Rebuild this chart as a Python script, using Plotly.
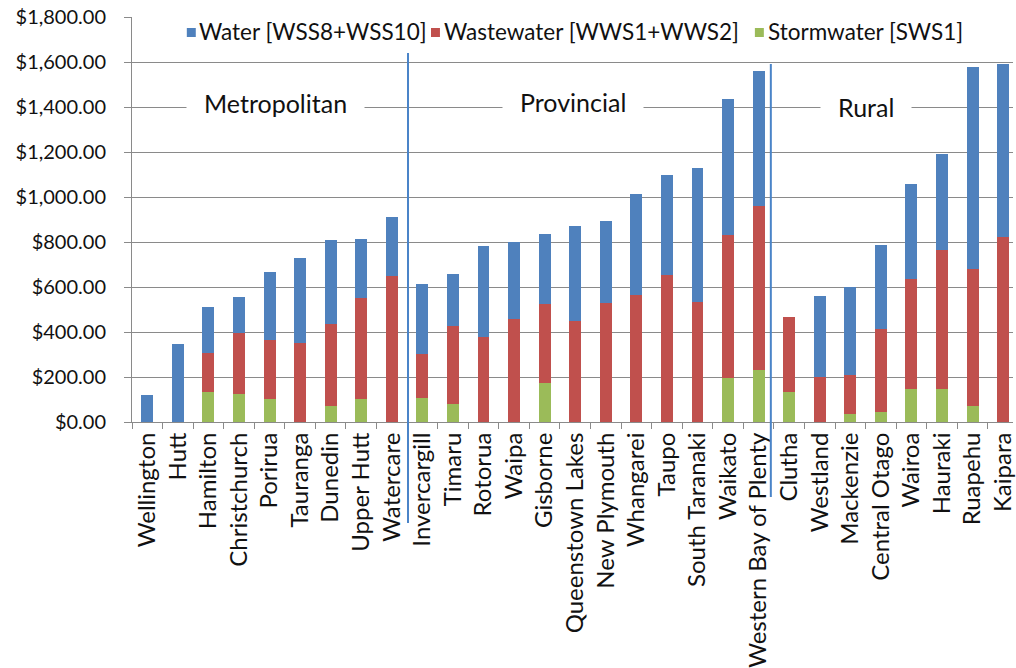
import plotly.graph_objects as go

# Councils, grouped Metropolitan | Provincial | Rural
categories = [
    "Wellington", "Hutt", "Hamilton", "Christchurch", "Porirua", "Tauranga",
    "Dunedin", "Upper Hutt", "Watercare", "Invercargill", "Timaru", "Rotorua",
    "Waipa", "Gisborne", "Queenstown Lakes", "New Plymouth", "Whangarei",
    "Taupo", "South Taranaki", "Waikato", "Western Bay of Plenty", "Clutha",
    "Westland", "Mackenzie", "Central Otago", "Wairoa", "Hauraki", "Ruapehu",
    "Kaipara",
]

stormwater = [0, 0, 133, 123, 102, 0, 70, 104, 0, 105, 82, 0, 0, 173, 0, 0, 0,
              0, 0, 197, 233, 133, 0, 34, 44, 145, 148, 71, 0]
wastewater = [0, 0, 174, 274, 261, 351, 367, 447, 648, 199, 345, 378, 459, 353,
              449, 529, 563, 652, 533, 632, 725, 334, 200, 177, 371, 492, 618,
              611, 822]
water = [122, 348, 204, 157, 302, 376, 371, 262, 263, 308, 232, 403, 341, 308,
         422, 363, 452, 444, 598, 605, 604, 0, 360, 389, 370, 423, 424, 896, 768]

series_names = ["Water [WSS8+WSS10]", "Wastewater [WWS1+WWS2]", "Stormwater [SWS1]"]
series_colors = ["#4F81BD", "#C0504D", "#9BBB59"]
y_ticks = list(range(0, 1801, 200))
section_labels = ["Metropolitan", "Provincial", "Rural"]

FONT = "Lato"
W, H = 1016, 668
M = dict(l=132, r=0, t=17, b=246)
PW = W - M["l"] - M["r"]
PH = H - M["t"] - M["b"]
SLOT = 30.67  # pixel width of one category slot
x_range = [-0.5, -0.5 + PW / SLOT]


def px(x):
    return (x - M["l"]) / PW


def py(y):
    return 1 - (y - M["t"]) / PH


def cx(c):
    return (c - x_range[0]) / (x_range[1] - x_range[0])


fig = go.Figure()
for vals, name, color in [
    (stormwater, series_names[2], series_colors[2]),
    (wastewater, series_names[1], series_colors[1]),
    (water, series_names[0], series_colors[0]),
]:
    fig.add_trace(go.Bar(
        x=categories, y=vals, name=name, marker_color=color,
        marker_line_width=0, showlegend=False,
    ))

shapes = []
annotations = []

# white legend panel over the top gridline
shapes.append(dict(type="rect", xref="paper", yref="paper",
                   x0=px(156), x1=px(999), y0=py(50), y1=py(5),
                   fillcolor="white", line_width=0, layer="above"))

# legend entries: coloured square + label
legend_x = [(187, 197), (432, 443), (757, 768)]
for (sq, tx), name, color in zip(legend_x, series_names, series_colors):
    shapes.append(dict(type="rect", xref="paper", yref="paper",
                       x0=px(sq), x1=px(sq + 9), y0=py(37), y1=py(28),
                       fillcolor=color, line_width=0, layer="above"))
    annotations.append(dict(text=name, xref="paper", yref="paper",
                            x=px(tx), y=py(32), xanchor="left", yanchor="middle",
                            showarrow=False, font=dict(family=FONT, size=22.5, color="#111")))

# group separators
for c, ytop, ybot in [(8.53, 53, 523), (20.4, 64, 497)]:
    shapes.append(dict(type="line", xref="paper", yref="paper",
                       x0=cx(c), x1=cx(c), y0=py(ytop), y1=py(ybot),
                       line=dict(color="#4A84C8", width=2), layer="above"))

# group labels
for label, (lx, ly) in zip(section_labels, [(276, 103), (575, 102), (868, 107)]):
    annotations.append(dict(text=label, xref="paper", yref="paper",
                            x=px(lx), y=py(ly), xanchor="center", yanchor="middle",
                            showarrow=False, bgcolor="white", borderpad=17,
                            font=dict(family=FONT, size=25, color="#111")))

fig.update_layout(
    width=W, height=H, margin=M,
    barmode="stack", bargap=0.61,
    paper_bgcolor="white", plot_bgcolor="white",
    font=dict(family=FONT, color="#111"),
    shapes=shapes, annotations=annotations,
    xaxis=dict(
        range=x_range, tickangle=-90, showline=True, linecolor="#8a8a8a",
        linewidth=1, ticks="outside", tickson="boundaries", ticklen=6,
        tickcolor="#8a8a8a", showgrid=False,
        tickfont=dict(family=FONT, size=24, color="#111"),
    ),
    yaxis=dict(
        range=[0, 1800], tickvals=y_ticks, tickformat="$,.2f",
        showline=True, linecolor="#8a8a8a", linewidth=1,
        ticks="outside", ticklen=7, tickcolor="#8a8a8a",
        showgrid=True, gridcolor="#8a8a8a", gridwidth=1, zeroline=False,
        ticklabelstandoff=14,
        tickfont=dict(family=FONT, size=20, color="#111"),
    ),
)

fig.write_html("out.html")
